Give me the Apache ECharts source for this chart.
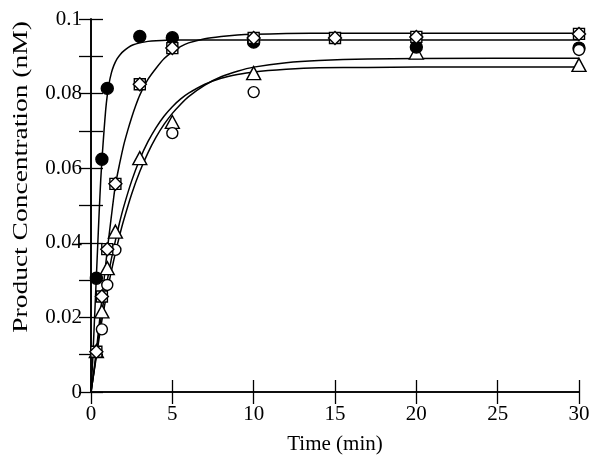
<!DOCTYPE html>
<html>
<head>
<meta charset="utf-8">
<script src="https://cdn.jsdelivr.net/npm/echarts@6/dist/echarts.min.js"></script>
<style>html,body{margin:0;padding:0;background:#fff}#c{width:602px;height:464px}</style>
</head>
<body>
<div id="c"></div>
<script>
// ---- data ----
var xTitle = 'Time (min)';
var yTitle = 'Product Concentration (nM)';
var xTicks = [0, 5, 10, 15, 20, 25, 30];
var yTickLabels = ['0', '0.02', '0.04', '0.06', '0.08', '0.1'];

// measured points
var filledT = [0.33, 0.67, 1, 3, 5, 10, 20, 30];
var filledY = [0.0305, 0.0624, 0.0814, 0.0953, 0.0950, 0.0938, 0.0925, 0.0922];

var squareT = [0.33, 0.67, 1, 1.5, 3, 5, 10, 15, 20, 30];
var squareY = [0.0108, 0.0256, 0.0383, 0.0558, 0.0825, 0.0922, 0.0949, 0.0949, 0.0952, 0.0960];

var diamondT = [0.33, 0.67, 1, 1.5, 3, 5, 10, 15, 20, 30];
var diamondY = [0.0108, 0.0256, 0.0383, 0.0558, 0.0825, 0.0922, 0.0949, 0.0949, 0.0952, 0.0960];

var triT = [0.33, 0.67, 1, 1.5, 3, 5, 10, 20, 30];
var triY = [0.0110, 0.0216, 0.0332, 0.0430, 0.0627, 0.0724, 0.0855, 0.0910, 0.0877];

var circT = [0.67, 1, 1.5, 5, 10, 30];
var circY = [0.0168, 0.0287, 0.0381, 0.0694, 0.0804, 0.0917];

// fitted curves
var fitFilledT = [0, 0.1, 0.2, 0.3, 0.4, 0.5, 0.6, 0.7, 0.8, 0.9, 1.0, 1.1, 1.25, 1.4, 1.6, 1.8, 2.0, 2.3, 2.6, 3.0, 3.5, 4, 5, 7, 30];
var fitFilledY = [0, 0.008, 0.018, 0.028, 0.038, 0.048, 0.057, 0.064, 0.070, 0.0755, 0.0795, 0.0825, 0.0855, 0.0875, 0.0893, 0.0905, 0.0914, 0.0924, 0.0931, 0.0936, 0.0940, 0.0942, 0.0944, 0.0944, 0.0944];

var fitSquareT = [0, 0.2, 0.33, 0.5, 0.67, 0.85, 1, 1.25, 1.5, 1.75, 2, 2.25, 2.5, 2.75, 3, 3.5, 4, 4.5, 5, 5.5, 6, 7, 8, 9, 10, 12, 15, 30];
var fitSquareY = [0, 0.006, 0.011, 0.018, 0.025, 0.032, 0.038, 0.047, 0.0555, 0.061, 0.066, 0.070, 0.0736, 0.0768, 0.0796, 0.0838, 0.0868, 0.0894, 0.0912, 0.0926, 0.0936, 0.0947, 0.0953, 0.0957, 0.0959, 0.0961, 0.0962, 0.0962];

var fitTriT = [0, 0.33, 0.67, 1, 1.25, 1.5, 1.75, 2, 2.5, 3, 3.5, 4, 4.5, 5, 5.5, 6, 7, 8, 9, 10, 12, 14, 17, 20, 30];
var fitTriY = [0, 0.0105, 0.0213, 0.0299, 0.0356, 0.0406, 0.0453, 0.0495, 0.0566, 0.0624, 0.0671, 0.0709, 0.0740, 0.0765, 0.0785, 0.0801, 0.0825, 0.0841, 0.0851, 0.0858, 0.0865, 0.0869, 0.0870, 0.0871, 0.0871];

var fitCircT = [0, 0.33, 0.67, 1, 1.25, 1.5, 1.75, 2, 2.5, 3, 3.5, 4, 4.5, 5, 5.5, 6, 7, 8, 9, 10, 12, 14, 17, 20, 30];
var fitCircY = [0, 0.0095, 0.0192, 0.0270, 0.0324, 0.0373, 0.0418, 0.0459, 0.0531, 0.0591, 0.0641, 0.0683, 0.0718, 0.0747, 0.0771, 0.0792, 0.0823, 0.0845, 0.0860, 0.0871, 0.0883, 0.0889, 0.0893, 0.0894, 0.0895];

function zip(a, b) { return a.map(function (v, i) { return [v, b[i]]; }); }

var FONT = '"Liberation Serif", "Times New Roman", serif';
var tickStyle = { show: true, inside: true, length: 12, lineStyle: { color: '#000', width: 1.3 } };
var lineAx = { show: true, lineStyle: { color: '#000', width: 1.6 } };

function fitSeries(t, y) {
  return { type: 'line', data: zip(t, y), showSymbol: false, smooth: 0.2,
    lineStyle: { color: '#000', width: 1.5 }, z: 1, silent: true, animation: false };
}
function markSeries(t, y, symbol, size, fill, z) {
  return { type: 'scatter', data: zip(t, y), symbol: symbol, symbolSize: size,
    itemStyle: { color: fill, borderColor: '#000', borderWidth: 1.4, opacity: 1 }, z: z, animation: false };
}

var chart = echarts.init(document.getElementById('c'), null, { renderer: 'canvas' });
chart.setOption({
  backgroundColor: '#fff',
  animation: false,
  grid: { left: 91, right: 23, top: 19, bottom: 72 },
  xAxis: [{
    type: 'value', min: xTicks[0], max: xTicks[xTicks.length - 1], interval: 5,
    axisLine: lineAx, axisTick: tickStyle, splitLine: { show: false },
    axisLabel: { color: '#000', fontFamily: FONT, fontSize: 21, margin: 12 },
    name: xTitle, nameLocation: 'middle', nameGap: 42,
    nameTextStyle: { color: '#000', fontFamily: FONT, fontSize: 21 }
  }, {
    type: 'value', position: 'top', min: 0, max: 30, interval: 5,
    axisLine: lineAx, axisTick: tickStyle, axisLabel: { show: false }, splitLine: { show: false }
  }],
  yAxis: [{
    type: 'value', min: 0, max: 0.1, interval: 0.02,
    axisLine: lineAx, axisTick: tickStyle, splitLine: { show: false },
    minorTick: { show: true, splitNumber: 2, length: 12, lineStyle: { color: '#000', width: 1.3 } },
    axisLabel: { color: '#000', fontFamily: FONT, fontSize: 21, margin: 9,
      formatter: function (v) { return yTickLabels[Math.round(v / 0.02)]; } }
  }, {
    type: 'value', position: 'right', min: 0, max: 0.1, interval: 0.02,
    axisLine: lineAx, axisTick: tickStyle, axisLabel: { show: false }, splitLine: { show: false },
    minorTick: { show: true, splitNumber: 2, length: 12, lineStyle: { color: '#000', width: 1.3 } }
  }],
  graphic: [{
    type: 'text', x: 21, y: 177, rotation: Math.PI / 2, scaleX: 1.25,
    style: { text: yTitle, font: '22px ' + FONT, fill: '#000', align: 'center', verticalAlign: 'middle' }
  }],
  series: [
    fitSeries(fitFilledT, fitFilledY),
    fitSeries(fitSquareT, fitSquareY),
    fitSeries(fitTriT, fitTriY),
    fitSeries(fitCircT, fitCircY),
    markSeries(triT, triY, 'triangle', [14, 13], '#fff', 2),
    markSeries(filledT, filledY, 'circle', 12, '#000', 3),
    markSeries(circT, circY, 'circle', 11, '#fff', 4),
    markSeries(squareT, squareY, 'rect', 11, '#fff', 5),
    markSeries(diamondT, diamondY, 'diamond', 13, '#fff', 6)
  ]
});
</script>
</body>
</html>
